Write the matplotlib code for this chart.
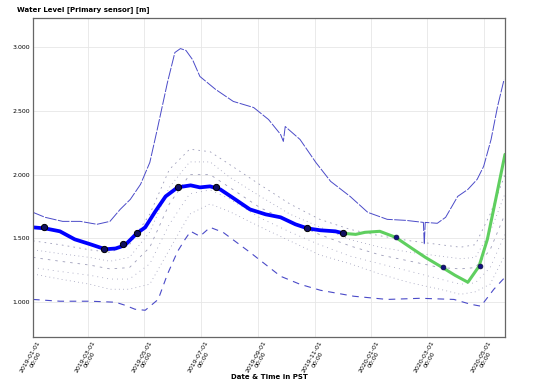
import numpy as np
import pandas as pd
import matplotlib
matplotlib.use("Agg")
import matplotlib.pyplot as plt
import matplotlib.dates as mdates

# observed level (blue, thick) and later record (green)
obs_dates = ["2019-01-01", "2019-01-14", "2019-01-30", "2019-02-15", "2019-03-04",
             "2019-03-20", "2019-03-31", "2019-04-10", "2019-04-23", "2019-05-02",
             "2019-05-13", "2019-05-24", "2019-06-06", "2019-06-20", "2019-06-30",
             "2019-07-11", "2019-07-22", "2019-08-07", "2019-08-23", "2019-09-09",
             "2019-09-25", "2019-10-11", "2019-10-24", "2019-11-07", "2019-11-23",
             "2019-12-02"]
obs_vals = [1.586, 1.578, 1.555, 1.492, 1.453, 1.414, 1.420, 1.445, 1.539, 1.586,
            1.712, 1.829, 1.900, 1.916, 1.900, 1.908, 1.884, 1.806, 1.727, 1.688,
            1.665, 1.610, 1.578, 1.563, 1.555, 1.539]

new_dates = ["2019-12-02", "2019-12-15", "2019-12-25", "2020-01-10", "2020-01-27",
             "2020-02-12", "2020-02-28", "2020-03-17", "2020-03-31", "2020-04-14",
             "2020-04-26", "2020-05-05", "2020-05-14", "2020-05-24"]
new_vals = [1.539, 1.531, 1.547, 1.555, 1.508, 1.429, 1.351, 1.273, 1.210, 1.155,
            1.280, 1.492, 1.806, 2.159]

pt_dates = ["2019-01-13", "2019-03-19", "2019-04-08", "2019-04-23", "2019-06-06",
            "2019-07-17", "2019-10-24", "2019-12-01"]
pt_vals = [1.586, 1.414, 1.453, 1.539, 1.900, 1.900, 1.578, 1.539]
pt2_dates = ["2020-01-27", "2020-03-18", "2020-04-27"]
pt2_vals = [1.508, 1.273, 1.280]

# historical max / min
max_dates = ["2019-01-01", "2019-01-14", "2019-02-02", "2019-02-21", "2019-03-11",
             "2019-03-25", "2019-04-05", "2019-04-16", "2019-04-27", "2019-05-07",
             "2019-05-15", "2019-05-26", "2019-06-03", "2019-06-09", "2019-06-15",
             "2019-06-22", "2019-06-30", "2019-07-17", "2019-08-05", "2019-08-27",
             "2019-09-12", "2019-09-25", "2019-09-28", "2019-09-30", "2019-10-16",
             "2019-11-02", "2019-11-18", "2019-12-09", "2019-12-28", "2020-01-18",
             "2020-02-07", "2020-02-26", "2020-02-27", "2020-02-28", "2020-03-12",
             "2020-03-21", "2020-04-03", "2020-04-14", "2020-04-24", "2020-05-01",
             "2020-05-09", "2020-05-16", "2020-05-23"]
max_vals = [1.704, 1.665, 1.633, 1.633, 1.610, 1.633, 1.727, 1.806, 1.924, 2.096,
            2.355, 2.724, 2.959, 2.990, 2.975, 2.904, 2.771, 2.669, 2.575, 2.527,
            2.433, 2.316, 2.261, 2.378, 2.276, 2.096, 1.947, 1.829, 1.704, 1.649,
            1.641, 1.625, 1.453, 1.625, 1.618, 1.665, 1.829, 1.884, 1.963, 2.065,
            2.276, 2.535, 2.747]

min_dates = ["2019-01-01", "2019-01-30", "2019-03-04", "2019-03-31", "2019-04-10",
             "2019-04-21", "2019-05-02", "2019-05-16", "2019-05-26", "2019-06-06",
             "2019-06-14", "2019-06-20", "2019-06-30", "2019-07-11", "2019-07-25",
             "2019-08-23", "2019-09-25", "2019-10-16", "2019-11-07", "2019-12-13",
             "2020-01-18", "2020-02-23", "2020-03-30", "2020-04-17", "2020-04-28",
             "2020-05-12", "2020-05-25"]
min_vals = [1.020, 1.006, 1.006, 0.998, 0.975, 0.943, 0.935, 1.020, 1.218, 1.398,
            1.492, 1.555, 1.516, 1.586, 1.547, 1.390, 1.202, 1.139, 1.092, 1.045,
            1.020, 1.029, 1.020, 0.982, 0.967, 1.100, 1.202]

# percentile bands (dotted)
pct_dates = ["2019-01-01", "2019-01-30", "2019-03-03", "2019-03-25", "2019-04-15",
             "2019-05-07", "2019-05-28", "2019-06-19", "2019-07-11", "2019-08-01",
             "2019-09-03", "2019-10-05", "2019-11-06", "2019-12-09", "2020-01-10",
             "2020-02-12", "2020-03-15", "2020-04-06", "2020-04-22", "2020-05-08",
             "2020-05-24"]
p90 = [1.48, 1.45, 1.41, 1.39, 1.45, 1.69, 2.04, 2.20, 2.18, 2.08, 1.92, 1.77, 1.65,
       1.57, 1.52, 1.48, 1.45, 1.43, 1.45, 1.69, 2.00]
p75 = [1.41, 1.38, 1.35, 1.32, 1.35, 1.55, 1.90, 2.10, 2.10, 1.98, 1.83, 1.69, 1.59,
       1.49, 1.43, 1.39, 1.36, 1.34, 1.35, 1.55, 1.85]
p50 = [1.35, 1.32, 1.29, 1.26, 1.27, 1.43, 1.77, 2.00, 2.00, 1.90, 1.74, 1.63, 1.53,
       1.44, 1.37, 1.32, 1.27, 1.26, 1.27, 1.41, 1.69]
p25 = [1.27, 1.24, 1.21, 1.18, 1.18, 1.30, 1.61, 1.85, 1.88, 1.81, 1.66, 1.55, 1.45,
       1.36, 1.30, 1.24, 1.18, 1.14, 1.15, 1.27, 1.53]
p10 = [1.22, 1.18, 1.14, 1.10, 1.10, 1.14, 1.41, 1.69, 1.77, 1.71, 1.59, 1.48, 1.37,
       1.30, 1.22, 1.15, 1.10, 1.06, 1.08, 1.14, 1.37]

tick_dates = ["2019-01-01", "2019-03-01", "2019-05-01", "2019-07-01", "2019-09-01",
              "2019-11-01", "2020-01-01", "2020-03-01", "2020-05-01"]
y_ticks = [1.0, 1.5, 2.0, 2.5, 3.0]

d = pd.to_datetime

fig = plt.figure(figsize=(5.48, 3.90), dpi=100)
ax = fig.add_axes([0.0602, 0.1359, 0.8613, 0.8179])

pct_dt = d(pct_dates)
styles = [(0, (2, 5)), (0, (1, 4)), (0, (3, 6)), (0, (1, 5)), (0, (1, 4))]
for vals, ls in zip([p90, p75, p50, p25, p10], styles):
    ax.plot(pct_dt, vals, color="#9c9cb8", lw=0.6, linestyle=ls)

ax.plot(d(max_dates), max_vals, color="#4a4ac8", lw=0.7, linestyle=(0, (12, 1.5)))
ax.plot(d(min_dates), min_vals, color="#4a4ac8", lw=0.8, linestyle=(0, (6, 5)))

ax.plot(d(new_dates), new_vals, color="#5fcf5f", lw=2.2, solid_capstyle="round")
ax.plot(d(obs_dates), obs_vals, color="#0000ff", lw=2.7, solid_capstyle="round")

ax.plot(d(pt_dates), pt_vals, "o", ms=4.5, mfc="#101060", mec="black", mew=0.7)
ax.plot(d(pt2_dates), pt2_vals, "o", ms=3.5, mfc="#101080", mec="#101040", mew=0.5)

ax.set_xlim(d("2019-01-01"), d("2020-05-24"))
ax.set_ylim(0.725, 3.23)
ax.set_yticks(y_ticks)
ax.set_yticklabels([f"{v:.3f}" for v in y_ticks], fontsize=4.5)
ax.set_xticks(d(tick_dates))
ax.xaxis.set_major_formatter(mdates.DateFormatter("%Y-%m-%d\n00:00"))
for lbl in ax.get_xticklabels():
    lbl.set_rotation(60)
    lbl.set_ha("center")
    lbl.set_fontsize(4.5)
ax.tick_params(length=0, pad=2)
ax.grid(True, color="#e6e6e6", lw=0.6)
ax.set_axisbelow(True)
for s in ax.spines.values():
    s.set_color("#666666")
    s.set_linewidth(0.9)

ax.set_xlabel("Date & Time in PST", fontsize=5, fontweight="bold")
ax.xaxis.set_label_coords(0.5, -0.115)
fig.text(0.031, 0.975, "Water Level [Primary sensor] [m]", fontsize=5,
         fontweight="bold", va="center")

fig.savefig("out.png", dpi=100)
